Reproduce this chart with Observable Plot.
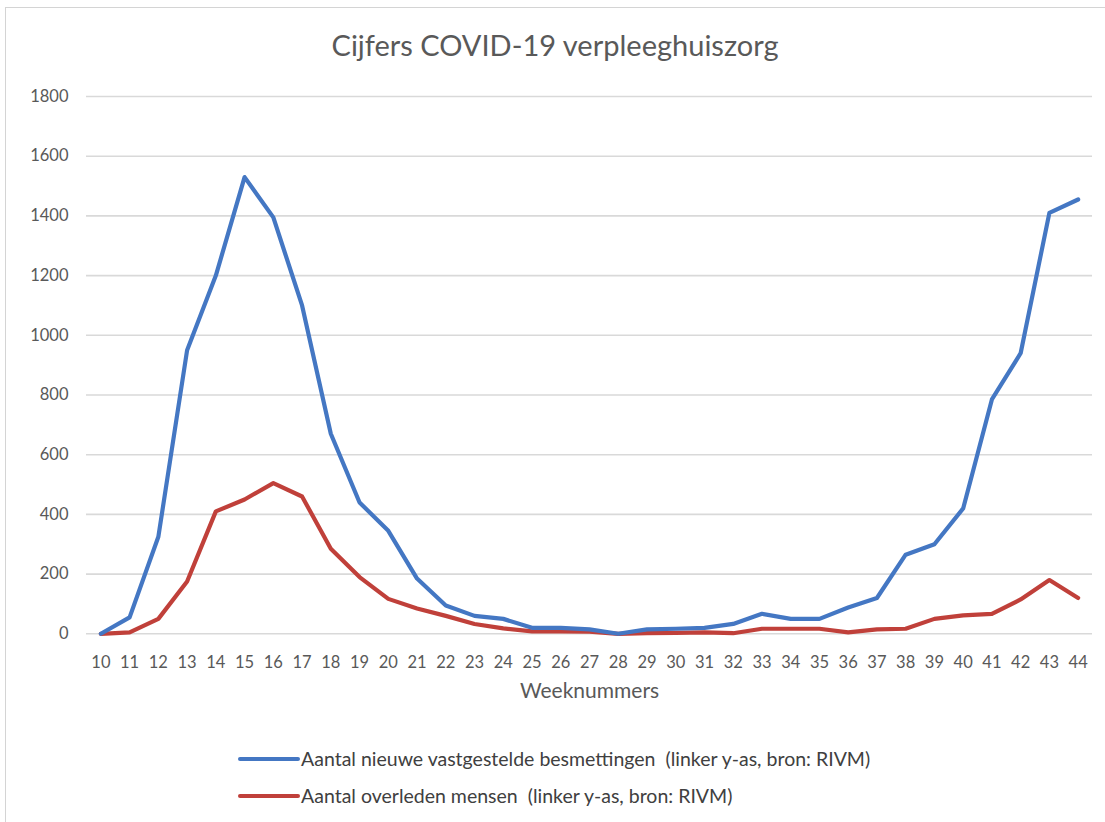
<!DOCTYPE html>
<html>
<head>
<meta charset="utf-8">
<script src="https://cdn.jsdelivr.net/npm/d3@7"></script>
<script src="https://cdn.jsdelivr.net/npm/@observablehq/plot@0.6"></script>
<style>
  html, body { margin: 0; padding: 0; background: #fff; }
  #frame { position: absolute; left: 5px; top: 7px; width: 1110px; height: 830px;
           border-top: 1.5px solid #d4d4d4; border-left: 1.5px solid #d4d4d4; }
  #title { position: absolute; left: 0; width: 1110px; top: 27px; text-align: center;
           font-family: Lato, sans-serif; font-size: 29px; color: #595959; }
  #chart { position: absolute; left: 0; top: 80px; }
  .leg { position: absolute; left: 238px; font-family: Lato, sans-serif; font-size: 19.5px; color: #404040;
         display: flex; align-items: center; white-space: pre; }
  .leg span.sw { display: inline-block; width: 62px; height: 4px; border-radius: 2px; margin-right: 1px; }
</style>
</head>
<body>
<div id="frame"></div>
<div id="title">Cijfers COVID-19 verpleeghuiszorg</div>
<div id="chart"></div>
<div class="leg" style="top:747px"><span class="sw" style="background:#4477c3"></span>Aantal nieuwe vastgestelde besmettingen  (linker y-as, bron: RIVM)</div>
<div class="leg" style="top:784px"><span class="sw" style="background:#c0403a"></span>Aantal overleden mensen  (linker y-as, bron: RIVM)</div>
<script>
const weeks = [10,11,12,13,14,15,16,17,18,19,20,21,22,23,24,25,26,27,28,29,30,31,32,33,34,35,36,37,38,39,40,41,42,43,44];
const besmettingen = [0,55,325,950,1200,1530,1395,1100,670,440,345,185,95,60,50,20,20,15,0,15,17,20,33,67,50,50,88,120,265,300,420,785,940,1410,1455];
const overleden = [0,5,50,175,410,450,505,460,285,190,117,85,60,33,18,8,8,7,0,2,3,5,2,17,17,17,5,15,17,50,62,67,115,180,120];
const yTicks = [0,200,400,600,800,1000,1200,1400,1600,1800];

const rowsB = weeks.map((w,i) => ({week: w, value: besmettingen[i]}));
const rowsO = weeks.map((w,i) => ({week: w, value: overleden[i]}));

const chart = Plot.plot({
  width: 1105,
  height: 640,
  marginLeft: 86,
  marginRight: 13,
  marginTop: 16,
  marginBottom: 86.7,
  style: {fontFamily: "Lato, sans-serif", fontSize: "16.5px", color: "#595959", background: "transparent"},
  x: {type: "linear", domain: [9.5, 44.5]},
  y: {domain: [0, 1800]},
  marks: [
    Plot.gridY(yTicks, {stroke: "#d9d9d9", strokeOpacity: 1, strokeWidth: 1.6}),
    Plot.axisY(yTicks, {tickSize: 0, tickPadding: 18, label: null, fill: "#595959", tickFormat: d => String(d)}),
    Plot.axisX(weeks, {tickSize: 0, tickPadding: 22, label: null, fill: "#595959", tickFormat: d => String(d), fontSize: 16.5}),
    Plot.text(["Weeknummers"], {frameAnchor: "bottom", dy: 64, fontSize: 21, fill: "#595959"}),
    Plot.line(rowsO, {x: "week", y: "value", stroke: "#c0403a", strokeWidth: 4.2, strokeLinejoin: "round"}),
    Plot.line(rowsB, {x: "week", y: "value", stroke: "#4477c3", strokeWidth: 4.2, strokeLinejoin: "round"})
  ]
});
document.getElementById("chart").appendChild(chart);
</script>
</body>
</html>
